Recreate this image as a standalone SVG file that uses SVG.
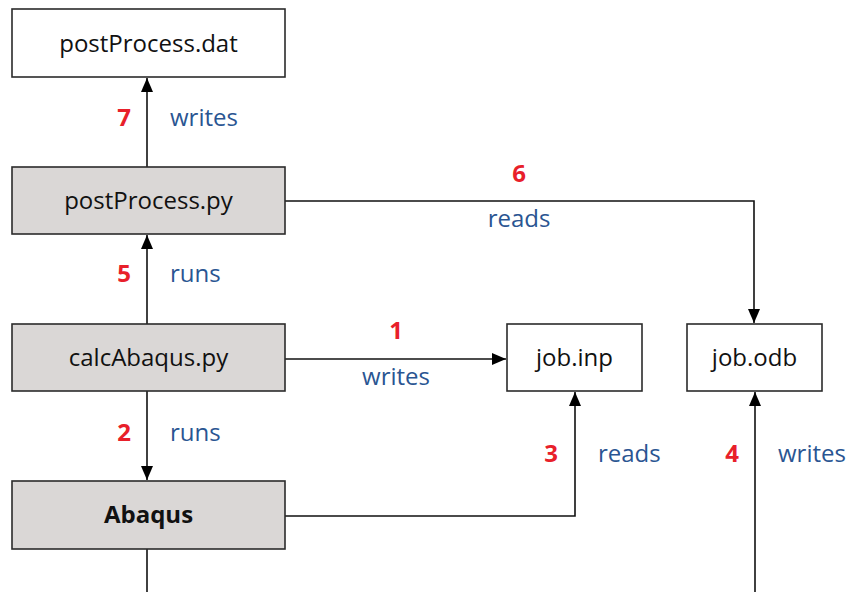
<svg xmlns="http://www.w3.org/2000/svg" width="848" height="592" viewBox="0 0 848 592">
<defs>
<marker id="arr" markerWidth="14" markerHeight="12" refX="14" refY="6" orient="auto" markerUnits="userSpaceOnUse">
<path d="M0,0 L14,6 L0,12 Z" fill="#000"/>
</marker>
<style>
.box{stroke:#2b2b2b;stroke-width:1.6;}
.file{fill:#fff;}
.proc{fill:#dad7d6;}
.nt{font-family:"Open Sans","Liberation Sans",sans-serif;font-size:24px;fill:#111;text-anchor:middle;dominant-baseline:central;}
.b{font-weight:bold;}
.lbl{font-family:"Open Sans","Liberation Sans",sans-serif;font-size:24px;fill:#2a5592;dominant-baseline:central;}
.num{font-family:"Open Sans","Liberation Sans",sans-serif;font-size:24px;font-weight:bold;fill:#e8202a;text-anchor:middle;dominant-baseline:central;}
.c{fill:none;stroke:#111;stroke-width:1.6;}
</style>
</defs>
<rect width="848" height="592" fill="#fff"/>
<g id="connectors">
<line class="c" x1="147" y1="167" x2="147" y2="78" marker-end="url(#arr)"/>
<polyline class="c" points="285,201 754,201 754,323" marker-end="url(#arr)"/>
<line class="c" x1="147" y1="324" x2="147" y2="235" marker-end="url(#arr)"/>
<line class="c" x1="285" y1="359" x2="506" y2="359" marker-end="url(#arr)"/>
<line class="c" x1="147" y1="391" x2="147" y2="480" marker-end="url(#arr)"/>
<polyline class="c" points="285,516 575,516 575,392" marker-end="url(#arr)"/>
<line class="c" x1="147" y1="549" x2="147" y2="592"/>
<line class="c" x1="755" y1="592" x2="755" y2="392" marker-end="url(#arr)"/>
<text class="num" x="124" y="116">7</text><text class="lbl" x="170" y="116">writes</text>
<text class="num" x="519" y="172">6</text><text class="lbl" x="519" y="217" text-anchor="middle">reads</text>
<text class="num" x="124" y="272">5</text><text class="lbl" x="170" y="272">runs</text>
<text class="num" x="396" y="329">1</text><text class="lbl" x="396" y="375" text-anchor="middle">writes</text>
<text class="num" x="124" y="431">2</text><text class="lbl" x="170" y="431">runs</text>
<text class="num" x="551" y="452">3</text><text class="lbl" x="598" y="452">reads</text>
<text class="num" x="732" y="452">4</text><text class="lbl" x="778" y="452">writes</text>
</g>
<g id="postProcess_dat"><rect class="box file" x="12" y="9" width="273" height="68"/><text class="nt" x="148.5" y="42">postProcess.dat</text></g>
<g id="postProcess_py"><rect class="box proc" x="12" y="167" width="273" height="67"/><text class="nt" x="148.5" y="199">postProcess.py</text></g>
<g id="calcAbaqus_py"><rect class="box proc" x="12" y="324" width="273" height="67"/><text class="nt" x="148.5" y="356">calcAbaqus.py</text></g>
<g id="Abaqus"><rect class="box proc" x="12" y="481" width="273" height="68"/><text class="nt b" x="148.5" y="513">Abaqus</text></g>
<g id="job_inp"><rect class="box file" x="507" y="324" width="135" height="67"/><text class="nt" x="574.5" y="356">job.inp</text></g>
<g id="job_odb"><rect class="box file" x="687" y="324" width="135" height="67"/><text class="nt" x="754.5" y="356">job.odb</text></g>
</svg>
